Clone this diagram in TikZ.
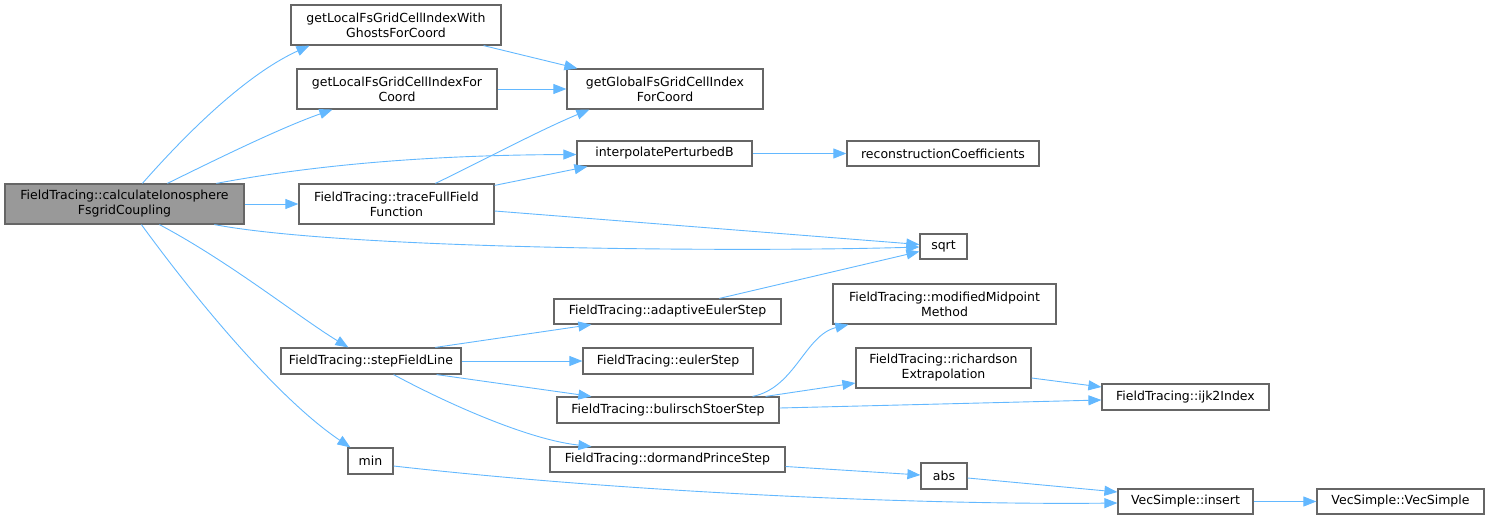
\documentclass[tikz,border=0pt]{standalone}
\usepackage{fontspec}
\setmainfont{DejaVu Sans}
\usetikzlibrary{arrows.meta}
\definecolor{edgec}{HTML}{63B8FF}
\definecolor{bordc}{HTML}{666666}
\definecolor{mainf}{HTML}{999999}
\begin{document}
\begin{tikzpicture}[x=1pt,y=-1pt,
 fn/.style={draw=bordc, line width=1.2pt, fill=white, inner sep=0pt, align=center,
   font=\fontsize{12.5}{15}\selectfont, text=black},
 call/.style={draw=edgec, line width=0.9pt, -{Triangle[length=13pt,width=10pt]}}]
\useasboundingbox (0,0) rectangle (1489,519);
% nodes
\node[fn, fill=mainf, minimum width=239pt, minimum height=40pt] (main) at (124.5,204) {FieldTracing::calculateIonosphere\\FsgridCoupling};
\node[fn, minimum width=210pt, minimum height=40pt] (ghost) at (396,25) {getLocalFsGridCellIndexWith\\GhostsForCoord};
\node[fn, minimum width=200pt, minimum height=40pt] (localfor) at (397,89) {getLocalFsGridCellIndexFor\\Coord};
\node[fn, minimum width=196pt, minimum height=40pt] (global) at (665,89) {getGlobalFsGridCellIndex\\ForCoord};
\node[fn, minimum width=175pt, minimum height=25pt] (interp) at (664.5,153.5) {interpolatePerturbedB};
\node[fn, minimum width=192pt, minimum height=25pt] (recon) at (943,153.5) {reconstructionCoefficients};
\node[fn, minimum width=195pt, minimum height=40pt] (trace) at (396.5,204) {FieldTracing::traceFullField\\Function};
\node[fn, minimum width=47pt, minimum height=25pt] (sqrt) at (943.5,246.5) {sqrt};
\node[fn, minimum width=227pt, minimum height=25pt] (adaptive) at (667.5,311.5) {FieldTracing::adaptiveEulerStep};
\node[fn, minimum width=170pt, minimum height=26pt] (euler) at (668,361) {FieldTracing::eulerStep};
\node[fn, minimum width=222pt, minimum height=26pt] (bulirsch) at (668,410) {FieldTracing::bulirschStoerStep};
\node[fn, minimum width=235pt, minimum height=25pt] (dormand) at (667.5,459.5) {FieldTracing::dormandPrinceStep};
\node[fn, minimum width=223pt, minimum height=40pt] (midpoint) at (944.5,304) {FieldTracing::modifiedMidpoint\\Method};
\node[fn, minimum width=175pt, minimum height=40pt] (richardson) at (943.5,368) {FieldTracing::richardson\\Extrapolation};
\node[fn, minimum width=167pt, minimum height=26pt] (ijk) at (1185.5,397) {FieldTracing::ijk2Index};
\node[fn, minimum width=46pt, minimum height=26pt] (abs) at (944,476) {abs};
\node[fn, minimum width=135pt, minimum height=25pt] (insert) at (1185.5,501.5) {VecSimple::insert};
\node[fn, minimum width=167pt, minimum height=25pt] (vecsimple) at (1400.5,501.5) {VecSimple::VecSimple};
\node[fn, minimum width=180pt, minimum height=26pt] (step) at (371,361) {FieldTracing::stepFieldLine};
\node[fn, minimum width=45pt, minimum height=26pt] (min) at (370.5,461) {min};
% edges
\draw[call] ([xshift=138pt]main.north west) .. controls (185,135) and (245,75) .. ([xshift=19pt]ghost.south west);
\draw[call] ([xshift=163pt]main.north west) .. controls (215,160) and (280,128) .. ([xshift=36pt]localfor.south west);
\draw[call] ([xshift=212pt]main.north west) .. controls (330,162) and (450,155) .. ([yshift=-1pt]interp.west);
\draw[call] (main.east) -- (trace.west);
\draw[call] ([xshift=210pt]main.south west) .. controls (350,250) and (750,252) .. ([yshift=-0.5pt]sqrt.west);
\draw[call] ([xshift=155pt]main.south west) .. controls (230,262) and (300,318) .. ([xshift=68pt]step.north west);
\draw[call] ([xshift=137pt]main.south west) .. controls (200,305) and (280,400) .. ([xshift=3pt]min.north west);
\draw[call] ([xshift=-18pt]ghost.south east) -- ([xshift=11pt]global.north west);
\draw[call] (localfor.east) -- (global.west);
\draw[call] ([xshift=137pt]trace.north west) .. controls (480,162) and (540,130) .. ([xshift=23pt]global.south west);
\draw[call] ([yshift=-2pt]trace.north east) -- ([xshift=11pt]interp.south west);
\draw[call] ([yshift=-7pt]trace.east) -- ([yshift=2pt]sqrt.west);
\draw[call] (interp.east) -- (recon.west);
\draw[call] ([xshift=166pt]adaptive.north west) -- ([yshift=-5pt]sqrt.west);
\draw[call] ([xshift=155pt]step.north west) -- ([xshift=38pt]adaptive.south west);
\draw[call] (step.east) -- (euler.west);
\draw[call] ([xshift=-25pt]step.south east) -- ([xshift=35pt]bulirsch.north west);
\draw[call] ([xshift=-68pt]step.south east) .. controls (450,405) and (530,440) .. ([xshift=42pt]dormand.north west);
\draw[call] ([xshift=-27pt]bulirsch.north east) .. controls (795,388) and (805,335) .. ([xshift=16pt]midpoint.south west);
\draw[call] ([xshift=-14pt]bulirsch.north east) -- ([yshift=-15pt]richardson.west);
\draw[call] ([yshift=2pt]bulirsch.east) -- ([yshift=-3pt]ijk.west);
\draw[call] ([yshift=-10pt]richardson.east) -- ([yshift=10pt]ijk.west);
\draw[call] ([yshift=-7pt]dormand.east) -- ([yshift=1pt]abs.west);
\draw[call] ([yshift=-2pt]abs.east) -- ([yshift=9.5pt]insert.west);
\draw[call] ([yshift=-5pt]min.east) .. controls (650,495) and (950,505) .. ([yshift=-1.5pt]insert.west);
\draw[call] (insert.east) -- (vecsimple.west);
\end{tikzpicture}
\end{document}
